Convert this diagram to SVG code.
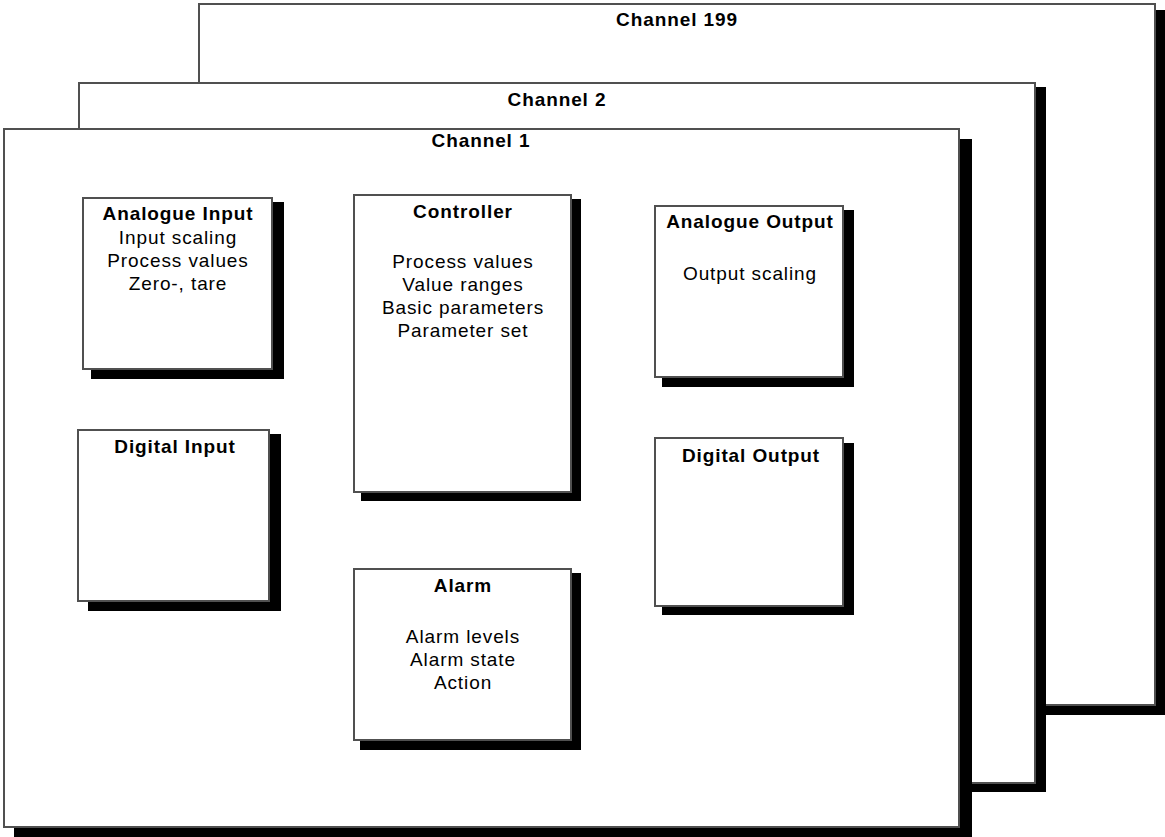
<svg xmlns="http://www.w3.org/2000/svg" width="1165" height="837" viewBox="0 0 1165 837">
<style>
.sh{fill:#000}
.bx{fill:#fff;stroke:#505050;stroke-width:2}
.t{font-family:"Liberation Sans",Arial,sans-serif;font-size:19px;font-weight:bold;fill:#000;text-anchor:middle;letter-spacing:0.9px}
.b{font-family:"Liberation Sans",Arial,sans-serif;font-size:19px;fill:#000;text-anchor:middle;letter-spacing:0.9px}
</style>
<g id="channel199">
<rect class="sh" x="209" y="10" width="956" height="705"/>
<rect class="bx" x="199" y="4" width="956" height="701"/>
<text class="t" x="677" y="26">Channel 199</text>
</g>
<g id="channel2">
<rect class="sh" x="89" y="87" width="957" height="705"/>
<rect class="bx" x="79" y="83" width="956" height="700"/>
<text class="t" x="557" y="106">Channel 2</text>
</g>
<g id="channel1">
<rect class="sh" x="14" y="139" width="958" height="698"/>
<rect class="bx" x="4" y="129" width="955" height="698"/>
<text class="t" x="481" y="147">Channel 1</text>
</g>
<g id="analogue-input">
<rect class="sh" x="91" y="202" width="193" height="177"/>
<rect class="bx" x="83" y="198" width="189" height="171"/>
<text class="t" x="178" y="220">Analogue Input</text>
<text class="b" x="178" y="244">Input scaling</text>
<text class="b" x="178" y="267">Process values</text>
<text class="b" x="178" y="290">Zero-, tare</text>
</g>
<g id="digital-input">
<rect class="sh" x="88" y="434" width="193" height="177"/>
<rect class="bx" x="78" y="430" width="191" height="171"/>
<text class="t" x="175" y="453">Digital Input</text>
</g>
<g id="controller">
<rect class="sh" x="361" y="199" width="220" height="302"/>
<rect class="bx" x="354" y="195" width="217" height="297"/>
<text class="t" x="463" y="218">Controller</text>
<text class="b" x="463" y="268">Process values</text>
<text class="b" x="463" y="291">Value ranges</text>
<text class="b" x="463" y="314">Basic parameters</text>
<text class="b" x="463" y="337">Parameter set</text>
</g>
<g id="alarm">
<rect class="sh" x="360" y="573" width="221" height="177"/>
<rect class="bx" x="354" y="569" width="217" height="171"/>
<text class="t" x="463" y="592">Alarm</text>
<text class="b" x="463" y="643">Alarm levels</text>
<text class="b" x="463" y="666">Alarm state</text>
<text class="b" x="463" y="689">Action</text>
</g>
<g id="analogue-output">
<rect class="sh" x="662" y="210" width="192" height="177"/>
<rect class="bx" x="655" y="206" width="188" height="171"/>
<text class="t" x="750" y="228">Analogue Output</text>
<text class="b" x="750" y="280">Output scaling</text>
</g>
<g id="digital-output">
<rect class="sh" x="662" y="443" width="192" height="172"/>
<rect class="bx" x="655" y="438" width="188" height="168"/>
<text class="t" x="751" y="462">Digital Output</text>
</g>
<g id="connectors"></g>
</svg>
